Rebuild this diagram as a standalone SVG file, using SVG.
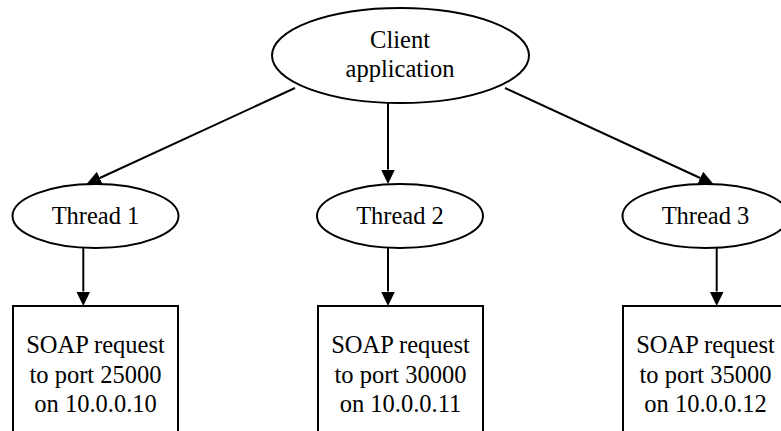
<svg xmlns="http://www.w3.org/2000/svg" width="781" height="431" viewBox="0 0 781 431">
  <style>
    .shape { fill: #ffffff; stroke: #000000; stroke-width: 2; }
    .edge { fill: none; stroke: #000000; stroke-width: 2; }
    .label { font-family: "Liberation Serif", "Times New Roman", serif; font-size: 24.5px; fill: #000000; text-anchor: middle; }
  </style>
  <defs>
    <marker id="arrow" markerUnits="userSpaceOnUse" markerWidth="16" markerHeight="15" refX="0" refY="7" orient="auto">
      <path d="M0,0 L14.5,7 L0,14 Z" fill="#000000"/>
    </marker>
  </defs>
  <rect width="781" height="431" fill="#ffffff"/>

  <!-- connectors -->
  <g id="connectors">
    <line class="edge" x1="295" y1="88" x2="99.8" y2="178" marker-end="url(#arrow)"/>
    <line class="edge" x1="388" y1="103" x2="388" y2="169.5" marker-end="url(#arrow)"/>
    <line class="edge" x1="505" y1="88" x2="700.2" y2="178" marker-end="url(#arrow)"/>
    <line class="edge" x1="83.3" y1="248" x2="83.3" y2="291.5" marker-end="url(#arrow)"/>
    <line class="edge" x1="388" y1="248" x2="388" y2="291.5" marker-end="url(#arrow)"/>
    <line class="edge" x1="716.7" y1="248" x2="716.7" y2="291.5" marker-end="url(#arrow)"/>
  </g>

  <!-- client -->
  <g id="client">
    <ellipse class="shape" cx="400.5" cy="55.5" rx="128.5" ry="47.5"/>
    <text class="label" x="400" y="48">Client</text>
    <text class="label" x="400" y="77">application</text>
  </g>

  <!-- worker threads -->
  <g id="thread1">
    <ellipse class="shape" cx="95.5" cy="216" rx="83" ry="32"/>
    <text class="label" x="95.5" y="224">Thread 1</text>
  </g>
  <g id="thread2">
    <ellipse class="shape" cx="400" cy="216" rx="83" ry="32"/>
    <text class="label" x="400" y="224">Thread 2</text>
  </g>
  <g id="thread3">
    <ellipse class="shape" cx="705.5" cy="216" rx="83" ry="32"/>
    <text class="label" x="705.5" y="224">Thread 3</text>
  </g>

  <!-- SOAP requests -->
  <g id="request1">
    <rect class="shape" x="13" y="306" width="165" height="140"/>
    <text class="label" x="95.5" y="353">SOAP request</text>
    <text class="label" x="95.5" y="382.5">to port 25000</text>
    <text class="label" x="95.5" y="411.5">on 10.0.0.10</text>
  </g>
  <g id="request2">
    <rect class="shape" x="318" y="306" width="165" height="140"/>
    <text class="label" x="400.5" y="353">SOAP request</text>
    <text class="label" x="400.5" y="382.5">to port 30000</text>
    <text class="label" x="400.5" y="411.5">on 10.0.0.11</text>
  </g>
  <g id="request3">
    <rect class="shape" x="623" y="306" width="165" height="140"/>
    <text class="label" x="705.5" y="353">SOAP request</text>
    <text class="label" x="705.5" y="382.5">to port 35000</text>
    <text class="label" x="705.5" y="411.5">on 10.0.0.12</text>
  </g>
</svg>
